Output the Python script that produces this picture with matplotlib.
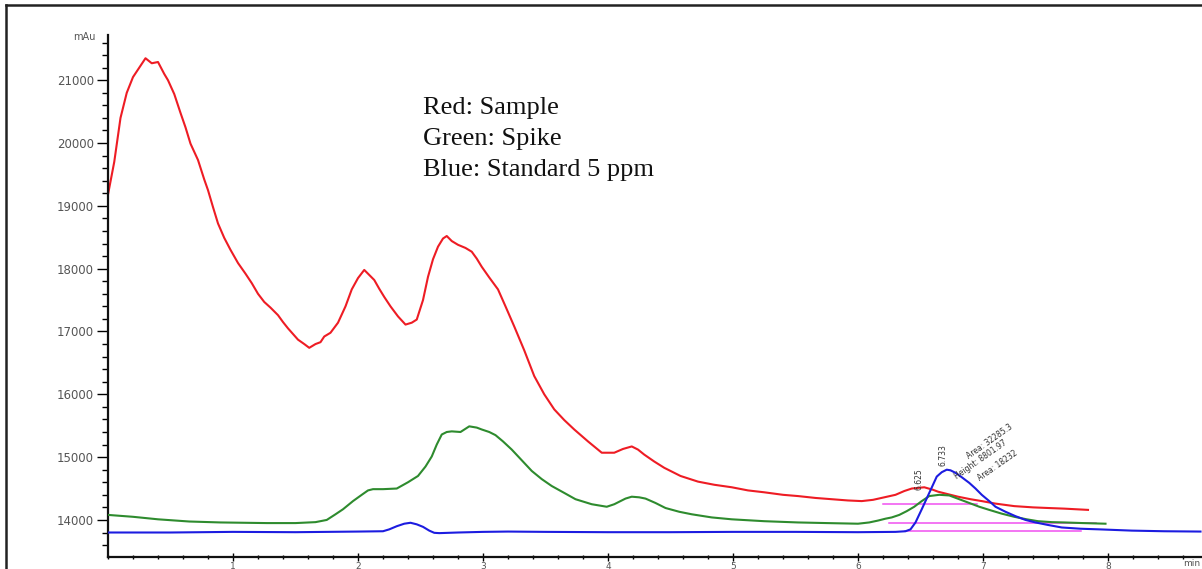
import matplotlib
matplotlib.use("Agg")
import matplotlib.pyplot as plt
from matplotlib.lines import Line2D
from matplotlib.ticker import MultipleLocator

# --- chromatogram traces (time in min, signal in mAu) ---
red_t = [0.0, 0.05, 0.10, 0.15, 0.20, 0.25, 0.30, 0.35, 0.40, 0.45, 0.48, 0.53, 0.58, 0.62, 0.66,
         0.72, 0.77, 0.80, 0.84, 0.88, 0.93, 0.98, 1.04, 1.10, 1.15, 1.20, 1.25, 1.30, 1.36, 1.40,
         1.44, 1.48, 1.52, 1.57, 1.61, 1.66, 1.70, 1.73, 1.78, 1.84, 1.90, 1.95, 2.00, 2.05, 2.09,
         2.13, 2.17, 2.21, 2.26, 2.32, 2.38, 2.43, 2.47, 2.52, 2.56, 2.60, 2.64, 2.68, 2.71, 2.75,
         2.80, 2.86, 2.91, 2.95, 2.99, 3.05, 3.12, 3.18, 3.25, 3.33, 3.41, 3.49, 3.57, 3.65, 3.73,
         3.84, 3.95, 4.05, 4.12, 4.19, 4.24, 4.29, 4.37, 4.45, 4.58, 4.72, 4.85, 4.99, 5.12, 5.25,
         5.40, 5.52, 5.66, 5.79, 5.92, 6.03, 6.12, 6.21, 6.30, 6.37, 6.43, 6.53, 6.60, 6.64, 6.72,
         6.80, 6.90, 6.99, 7.10, 7.25, 7.40, 7.52, 7.65, 7.84]
red_y = [19180, 19700, 20400, 20800, 21050, 21200, 21350, 21270, 21290, 21100, 21000, 20780, 20480, 20250, 19990,
         19730, 19420, 19250, 18980, 18720, 18490, 18300, 18090, 17920, 17770, 17600, 17470, 17380, 17260, 17150,
         17050, 16960, 16870, 16800, 16740, 16800, 16830, 16920, 16980, 17140, 17400, 17670, 17850, 17980, 17900,
         17820, 17680, 17550, 17400, 17240, 17110, 17140, 17190, 17500, 17870, 18150, 18350, 18480, 18520, 18440,
         18380, 18330, 18270, 18160, 18030, 17860, 17670, 17400, 17080, 16700, 16290, 16000, 15760, 15590, 15440,
         15250, 15070, 15070, 15130, 15170, 15120, 15040, 14930, 14830, 14700, 14610, 14560, 14520, 14470, 14440,
         14400, 14380, 14350, 14330, 14310, 14300, 14320, 14360, 14400, 14460, 14500, 14520, 14480, 14450, 14410,
         14370, 14330, 14300, 14260, 14220, 14200, 14190, 14180, 14160]

green_t = [0.00, 0.20, 0.40, 0.65, 0.90, 1.27, 1.50, 1.66, 1.75, 1.82, 1.88, 1.96, 2.03, 2.08, 2.12,
           2.20, 2.31, 2.40, 2.48, 2.54, 2.59, 2.63, 2.67, 2.71, 2.75, 2.82, 2.89, 2.95, 2.99, 3.05,
           3.10, 3.16, 3.23, 3.31, 3.39, 3.47, 3.55, 3.65, 3.74, 3.87, 3.99, 4.05, 4.09, 4.14, 4.19,
           4.25, 4.30, 4.38, 4.46, 4.57, 4.67, 4.83, 4.99, 5.25, 5.52, 5.75, 6.00, 6.09, 6.16, 6.22,
           6.27, 6.33, 6.39, 6.45, 6.51, 6.57, 6.65, 6.73, 6.81, 6.89, 6.97, 7.05, 7.15, 7.25, 7.35,
           7.44, 7.55, 7.65, 7.80, 7.98]
green_y = [14080, 14050, 14010, 13975, 13960, 13950, 13950, 13965, 14000, 14090, 14170, 14300, 14400, 14470, 14490,
           14490, 14500, 14600, 14700, 14850, 15010, 15200, 15360, 15400, 15410, 15400, 15490, 15470, 15440, 15400,
           15350, 15250, 15120, 14950, 14780, 14650, 14540, 14430, 14330, 14250, 14210, 14250, 14290, 14340, 14370,
           14360, 14340, 14270, 14190, 14130, 14090, 14040, 14010, 13980, 13960, 13950, 13940, 13960, 13990, 14020,
           14040, 14080, 14140, 14210, 14300, 14380, 14400, 14390, 14330, 14270, 14210, 14160, 14100, 14050, 14010,
           13980, 13965, 13960, 13950, 13940]

blue_t = [0.00, 0.50, 1.00, 1.50, 2.00, 2.20, 2.25, 2.31, 2.37, 2.42, 2.47, 2.52, 2.57, 2.61, 2.65,
          2.80, 3.00, 3.20, 3.50, 4.00, 4.50, 5.00, 5.50, 6.00, 6.30, 6.38, 6.42, 6.46, 6.51, 6.57,
          6.63, 6.67, 6.71, 6.74, 6.78, 6.83, 6.89, 6.94, 6.99, 7.05, 7.10, 7.18, 7.26, 7.34, 7.42,
          7.52, 7.63, 7.78, 7.93, 8.19, 8.45, 8.74]
blue_y = [13800, 13800, 13810, 13805, 13815, 13820, 13850, 13900, 13940, 13955, 13930, 13890, 13830, 13795, 13790,
          13800, 13810, 13815, 13810, 13805, 13805, 13810, 13810, 13805, 13810, 13820, 13850, 13960, 14170, 14430,
          14690, 14760, 14800, 14790, 14750, 14680, 14590, 14500, 14400, 14300, 14210, 14130, 14060, 14000, 13960,
          13920, 13880, 13860, 13850, 13830, 13820, 13815]

# integration baselines: (start, end, level)
base_start = [6.20, 6.25, 6.38]
base_end = [6.95, 7.90, 7.78]
base_level = [14260, 13950, 13825]

# peak annotations
ann_text = ["6.625", "6.733", "Area: 32285.3", "Height: 8801.97", "Area: 18232"]
ann_t = [6.49, 6.68, 7.05, 6.98, 7.12]
ann_y = [14650, 15030, 15250, 14960, 14870]
ann_rot = [90, 90, 35, 35, 35]

legend_lines = ["Red: Sample", "Green: Spike", "Blue: Standard 5 ppm"]

RED, GREEN, BLUE, PINK = "#ee1c24", "#2e8b2e", "#1c1ce0", "#f050f0"

fig = plt.figure(figsize=(12.02, 5.69), dpi=100)
W, H = 1202, 569
ax = fig.add_axes([108 / W, (H - 557) / H, (W - 108) / W, (557 - 35) / H])
ax.set_xlim(0, (W - 108) / 125)
ax.set_ylim(13410, 21720)

for s, e, lv in zip(base_start, base_end, base_level):
    ax.plot([s, e], [lv, lv], color=PINK, lw=1.1, zorder=1)

ax.plot(red_t, red_y, color=RED, lw=1.5, zorder=2)
ax.plot(green_t, green_y, color=GREEN, lw=1.5, zorder=3)
ax.plot(blue_t, blue_y, color=BLUE, lw=1.5, zorder=4)

for txt, t, y, r in zip(ann_text, ann_t, ann_y, ann_rot):
    ax.text(t, y, txt, rotation=r, fontsize=5.5, color="#333333", ha="center", va="center", zorder=5)

for side in ["top", "right"]:
    ax.spines[side].set_visible(False)
for side in ["left", "bottom"]:
    ax.spines[side].set_linewidth(1.6)
    ax.spines[side].set_color("#111111")

ax.yaxis.set_major_locator(MultipleLocator(1000))
ax.yaxis.set_minor_locator(MultipleLocator(200))
ax.xaxis.set_major_locator(MultipleLocator(1))
ax.xaxis.set_minor_locator(MultipleLocator(0.2))
ax.tick_params(axis="y", which="major", length=8, width=1.0, pad=2, labelsize=8.5, labelcolor="#555555")
ax.tick_params(axis="y", which="minor", length=4, width=1.0)
ax.tick_params(axis="x", which="major", direction="inout", length=6, width=1.0, pad=0.5,
               labelsize=6.5, labelcolor="#555555")
ax.tick_params(axis="x", which="minor", direction="inout", length=3, width=1.0)
ax.set_xticks([1, 2, 3, 4, 5, 6, 7, 8])
ax.set_xticklabels(["1", "2", "3", "4", "5", "6", "7", "8"])
ax.set_yticks([14000, 15000, 16000, 17000, 18000, 19000, 20000, 21000])

fig.text(95 / W, 1 - 37 / H, "mAu", fontsize=7, color="#555555", ha="right", va="center")
fig.text(1200 / W, 1 - 563 / H, "min", fontsize=6.5, color="#555555", ha="right", va="center")

# legend block in serif
for i, line in enumerate(legend_lines):
    fig.text(423 / W, 1 - (108 + 31 * i) / H, line, family="Liberation Serif",
             fontsize=19, color="#111111", ha="left", va="center")

# outer page frame
fig.add_artist(Line2D([6 / W, 6 / W], [0, 1 - 5 / H], transform=fig.transFigure, color="#222222", lw=1.8))
fig.add_artist(Line2D([6 / W, 1], [1 - 5 / H, 1 - 5 / H], transform=fig.transFigure, color="#222222", lw=1.8))

fig.savefig("out.png", dpi=100)
